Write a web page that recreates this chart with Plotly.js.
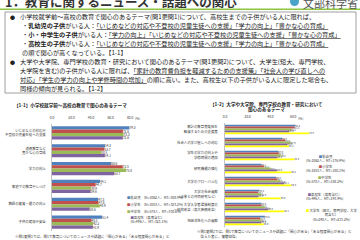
<!DOCTYPE html>
<html><head><meta charset="utf-8">
<script src="https://cdn.plot.ly/plotly-3.0.1.min.js"></script>
<style>html,body{margin:0;padding:0;background:#fff}#chart{width:360px;height:240px}</style>
</head><body><div id="chart"></div>
<script>
// ---- data: chart 1-1 ----
const themes1 = ['いじめなどの対応や<br>不登校の児童生徒への支援', '道徳教育など<br>豊かな心の育成', '学力の向上', '家庭での教育やしつけ', '教師の資質・能力の向上', '子供の健康や安全'];
const infant1 = [79.3, 54.3, 60.6, 49.1, 47.3, 51.4];
const elementary1 = [72.6, 53.7, 72.5, 44.7, 47.6, 40.5];
const junior1 = [73.3, 50.5, 75.8, 39.9, 48.9, 42.2];
const high1 = [72.6, 54.1, 63.7, 39.6, 38.6, 41.9];
const legend1 = ['乳幼児　(N=1062人、MT=308.9%)', '小学生　(N=1053人、MT=323.2%)', '中学生　(N=578人、MT=330.6%)', '高校生（高専含む）<br>　(N=496人、MT=321.1%)'];
const ticks1 = [0, 20, 40, 60, 80];
// ---- data: chart 1-2 ----
const themes2 = ['家計の教育費負担を<br>軽減するための支援策', '社会人の学び直しへの対応', '学生の学力の向上や<br>学修時間の増加', '研究機能の強化', '大学のグローバル化', '大学の社会貢献<br>（企業との共同研究など）', '大学入学者選抜制度の<br>一体的改革（高大接続改革）', '地域活性化への貢献'];
const infant2 = [62.0, 50.3, 47.0, 32.1, 45.0, 30.2, 32.0, 35.0];
const elementary2 = [61.2, 53.0, 47.3, 34.2, 46.1, 29.1, 32.2, 31.0];
const junior2 = [58.1, 57.9, 49.2, 40.1, 49.0, 32.0, 35.1, 32.1];
const high2 = [56.3, 55.0, 46.1, 46.0, 52.1, 29.3, 38.0, 32.0];
const college2 = [73.9, 56.1, 61.0, 58.2, 58.3, 49.0, 52.1, 34.0];
const legend2 = ['乳幼児<br>(N=1062人、MT=176.9%)', '小学生<br>(N=1053人、MT=180.1%)', '中学生<br>(N=578人、MT=188.2%)', '高校生（高専含む）<br>(N=496人、MT=193.9%)', '大学生（短大、専門学校、大学<br>院含む）<br>(N=290人、MT=213.2%)'];
const ticks2 = [0, 20, 40, 60];

const colors = ['#4f81bd', '#c0504d', '#9bbb59', '#8064a2', '#ffff00'];
const F = '"Noto Sans CJK JP", "Noto Sans", sans-serif';
const W = 360, H = 240;
const px = x => x / W, py = y => 1 - y / H;

function bar(vals, cats, i, ax, fs) {
  return {type: 'bar', orientation: 'h', x: vals, y: cats, xaxis: 'x' + ax, yaxis: 'y' + ax,
    marker: {color: colors[i], line: {width: 0}}, text: vals.map(v => v.toFixed(1)),
    textposition: 'outside', constraintext: 'none', cliponaxis: false,
    textfont: {size: fs, color: '#333', family: F}, hoverinfo: 'skip', showlegend: false};
}
const data = [
  bar(infant1, themes1, 0, '', 3.1), bar(elementary1, themes1, 1, '', 3.1), bar(junior1, themes1, 2, '', 3.1), bar(high1, themes1, 3, '', 3.1),
  bar(infant2, themes2, 0, '2', 2.4), bar(elementary2, themes2, 1, '2', 2.4), bar(junior2, themes2, 2, '2', 2.4), bar(high2, themes2, 3, '2', 2.4), bar(college2, themes2, 4, '2', 2.4)
];

const ann = [];
function A(text, x, y, o) {
  ann.push(Object.assign({text: text, x: px(x), y: py(y), xref: 'paper', yref: 'paper', showarrow: false,
    xanchor: 'left', yanchor: 'middle', borderpad: 0, font: {family: F, size: 6.2, color: '#222'}}, o || {}));
}
// header
A('<b>1．教育に関するニュース・話題への関心</b>', 4, 2, {font: {family: F, size: 12.5, color: '#333'}});
A('文部科学省', 302, 3, {font: {family: F, size: 11, color: '#555'}});
// box text
const lineY = k => 17 + 8.9 * k;
A('●', 9, lineY(0), {font: {family: F, size: 5, color: '#222'}});
A('小学校就学前～高校の教育で関心のあるテーマ(問1更問1)について、高校生までの子供がいる人に限れば、', 19, lineY(0));
A('・<b>乳幼児の子供</b>がいる人：<u>「いじめなどの対応や不登校の児童生徒への支援」「学力の向上」「豊かな心の育成」</u>', 21, lineY(1));
A('・<b>小・中学生の子供</b>がいる人：<u>「学力の向上」「いじめなどの対応や不登校の児童生徒への支援」「豊かな心の育成」</u>', 21, lineY(2));
A('・<b>高校生の子供</b>がいる人：<u>「いじめなどの対応や不登校の児童生徒への支援」「学力の向上」「豊かな心の育成」</u>', 21, lineY(3));
A('の順で関心が高くなっている。【1-1】', 21, lineY(4));
A('●', 9, lineY(5), {font: {family: F, size: 5, color: '#222'}});
A('大学や大学院、専門学校の教育・研究において関心のあるテーマ(問1更問2)について、大学生(短大、専門学校、', 19, lineY(5));
A('大学院を含む)の子供がいる人に限れば、<u>「家計の教育費負担を軽減するための支援策」「社会人の学び直しへの</u>', 19, lineY(6));
A('<u>対応」「学生の学力の向上や学修時間の増加」</u>の順に高い。また、高校生以下の子供がいる人に限定した場合も、', 19, lineY(7));
A('同様の傾向が見られる。【1-2】', 19, lineY(8));
// chart titles
A('<b>【1-1】小学校就学前～高校の教育で関心のあるテーマ</b>', 13, 105, {font: {family: F, size: 4.6, color: '#222'}});
A('<b>【1-2】大学や大学院、専門学校の教育・研究において</b>', 266, 104, {xanchor: 'center', font: {family: F, size: 4.6, color: '#222'}});
A('<b>関心のあるテーマ</b>', 266, 110, {xanchor: 'center', font: {family: F, size: 4.6, color: '#222'}});
A('(%)', 134, 118, {font: {family: F, size: 3.3, color: '#333'}});
A('(%)', 297, 118, {font: {family: F, size: 3.3, color: '#333'}});
// legends
const sw = c => '<span style="color:' + c + '">■</span>';
const lg1y = [197, 204, 211, 219];
legend1.forEach((t, i) => A(sw(colors[i]) + t, 126, lg1y[i], {font: {family: F, size: 3.4, color: '#333'}}));
const lg2y = [158, 168, 179, 196, 215];
legend2.forEach((t, i) => A(sw(colors[i]) + t, 305, lg2y[i], {font: {family: F, size: 3.4, color: '#333'}}));
// footnotes
A('※問1更問1では、問1で教育についてのニュースや話題に「関心がある」「ある程度関心がある」と', 14, 236, {font: {family: F, size: 3.5, color: '#333'}});
A('※問1更問2では、問1で教育についてのニュースや話題に「関心がある」「ある程度関心がある」と<br>　答えた者に、複数回答。', 196, 234, {align: 'left', font: {family: F, size: 3.5, color: '#333'}});

const shapes = [
  {type: 'rect', xref: 'paper', yref: 'paper', x0: 0, x1: 1, y0: py(10), y1: py(8.5), fillcolor: '#8cc63f', line: {width: 0}},
  {type: 'rect', xref: 'paper', yref: 'paper', x0: px(5), x1: px(356), y0: py(93), y1: py(12), fillcolor: 'rgba(0,0,0,0)', line: {color: '#888', width: 0.8}},
  {type: 'circle', xref: 'paper', yref: 'paper', x0: px(290), x1: px(299), y0: py(6), y1: py(-3), fillcolor: '#4aa3c8', line: {width: 0}}
];

const axBase = {showgrid: false, zeroline: false, ticks: '', fixedrange: true};
const layout = {
  width: W, height: H, margin: {l: 0, r: 0, t: 0, b: 0}, paper_bgcolor: '#fff', plot_bgcolor: 'rgba(0,0,0,0)',
  font: {family: F, color: '#333'}, barmode: 'group', bargap: 0.26, bargroupgap: 0, showlegend: false,
  xaxis: Object.assign({}, axBase, {domain: [px(52), px(135)], range: [0, 85], side: 'top', tickvals: ticks1,
    tickformat: '.1f', tickfont: {size: 3.3, family: F}, ticklabelstandoff: 3, anchor: 'y'}),
  yaxis: Object.assign({}, axBase, {domain: [py(231), py(124)], autorange: 'reversed', type: 'category',
    showline: true, linecolor: '#999', linewidth: 0.6, tickfont: {size: 3.4, family: F}, ticklabelstandoff: 5, anchor: 'x'}),
  xaxis2: Object.assign({}, axBase, {domain: [px(225), px(316)], range: [0, 80], side: 'top', tickvals: ticks2,
    tickformat: '.1f', tickfont: {size: 3.3, family: F}, ticklabelstandoff: 3, anchor: 'y2'}),
  yaxis2: Object.assign({}, axBase, {domain: [py(227), py(123)], autorange: 'reversed', type: 'category',
    showline: true, linecolor: '#999', linewidth: 0.6, tickfont: {size: 3.4, family: F}, ticklabelstandoff: 6, anchor: 'x2'}),
  annotations: ann, shapes: shapes
};
Plotly.newPlot('chart', data, layout, {staticPlot: true, displayModeBar: false});
</script></body></html>
